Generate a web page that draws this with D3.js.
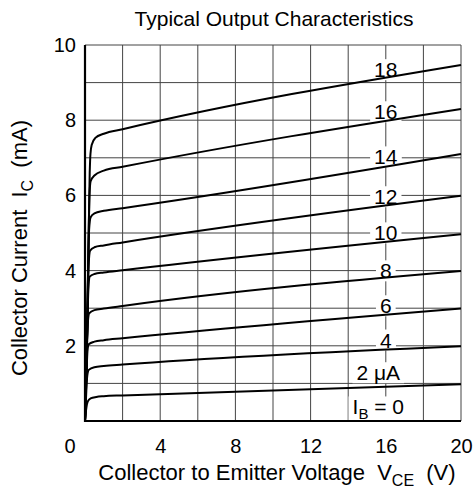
<!DOCTYPE html>
<html>
<head>
<meta charset="utf-8">
<script src="https://cdn.jsdelivr.net/npm/d3@7"></script>
<style>
  body { margin: 0; background: #fff; }
  svg { display: block; font-family: "Liberation Sans", Arial, sans-serif; }
</style>
</head>
<body>
<svg id="chart" width="473" height="490"></svg>
<script>
// Base current I_B (uA) for each curve, and its points [V_CE (V), I_C (mA)]
const baseCurrents = [0, 2, 4, 6, 8, 10, 12, 14, 16, 18];
const curve0 = [[0, 0], [20, 0]];
const curve2 = [[0, 0], [0.06, 0.3], [0.15, 0.52], [0.3, 0.6], [0.6, 0.64], [1, 0.66], [2, 0.68], [20, 0.98]];
const curve4 = [[0, 0], [0.07, 0.8], [0.12, 1.2], [0.2, 1.36], [0.5, 1.43], [1, 1.46], [2, 1.5], [20, 1.99]];
const curve6 = [[0, 0], [0.08, 1.2], [0.13, 1.85], [0.2, 2.04], [0.5, 2.11], [1, 2.15], [2, 2.2], [20, 2.99]];
const curve8 = [[0, 0], [0.1, 1.8], [0.15, 2.6], [0.22, 2.86], [0.5, 2.95], [1, 2.99], [2, 3.06], [20, 3.99]];
const curve10 = [[0, 0], [0.1, 2], [0.18, 3.5], [0.25, 3.84], [0.5, 3.91], [1, 3.95], [2, 4.01], [20, 4.97]];
const curve12 = [[0, 0], [0.1, 2], [0.2, 4.2], [0.27, 4.53], [0.5, 4.62], [1, 4.67], [2, 4.75], [20, 5.99]];
const curve14 = [[0, 0], [0.1, 2], [0.22, 5.1], [0.3, 5.42], [0.5, 5.52], [1, 5.59], [2, 5.66], [20, 7.10]];
const curve16 = [[0, 0], [0.1, 2], [0.24, 6.0], [0.3, 6.38], [0.5, 6.53], [1, 6.66], [2, 6.76], [20, 8.30]];
const curve18 = [[0, 0], [0.1, 2], [0.25, 6.6], [0.29, 7.1], [0.36, 7.35], [0.55, 7.53], [1, 7.64], [2, 7.76], [20, 9.47]];
const curves = [curve0, curve2, curve4, curve6, curve8, curve10, curve12, curve14, curve16, curve18];

// curve labels: text, and where they sit (V_CE, I_C)
const labelText = ["I_B = 0", "2 \u03bcA", "4", "6", "8", "10", "12", "14", "16", "18"];
const labelV = [15.6, 15.6, 16, 16, 16, 16, 16, 16, 16, 16];
const labelI = [0.37, 1.28, 2.15, 3.06, 3.99, 5.0, 5.96, 7.02, 8.22, 9.34];

const xTicks = [4, 8, 12, 16, 20];
const yTicks = [2, 4, 6, 8, 10];

const NB = "\u00a0";
const svg = d3.select("#chart");

const x = d3.scaleLinear().domain([0, 20]).range([85, 461]);
const y = d3.scaleLinear().domain([0, 10]).range([421, 45]);

// Title
svg.append("text")
    .attr("x", 274)
    .attr("y", 26)
    .attr("text-anchor", "middle")
    .attr("font-size", 21)
    .text("Typical Output Characteristics");

// Gridlines
const grid = svg.append("g").attr("class", "grid");
grid.selectAll(".vline")
    .data(x.ticks(10))
    .enter()
    .append("line")
    .attr("x1", d => x(d)).attr("x2", d => x(d))
    .attr("y1", y(0)).attr("y2", y(10))
    .attr("stroke", "#444")
    .attr("stroke-width", 1);
grid.selectAll(".hline")
    .data(y.ticks(10))
    .enter()
    .append("line")
    .attr("x1", x(0)).attr("x2", x(20))
    .attr("y1", d => y(d)).attr("y2", d => y(d))
    .attr("stroke", "#444")
    .attr("stroke-width", 1);

// Left and bottom axis lines are heavier
svg.append("line")
    .attr("x1", x(0)).attr("x2", x(0)).attr("y1", y(0) + 1).attr("y2", y(10))
    .attr("stroke", "#000").attr("stroke-width", 2.2);
svg.append("line")
    .attr("x1", x(0) - 1).attr("x2", x(20)).attr("y1", y(0)).attr("y2", y(0))
    .attr("stroke", "#000").attr("stroke-width", 2.2);

// Curve labels with white backing that breaks the grid
const labels = svg.append("g").attr("class", "curve-labels");
labelText.forEach((t, i) => {
    const g = labels.append("g");
    const txt = g.append("text")
        .attr("x", x(labelV[i]))
        .attr("y", y(labelI[i]))
        .attr("dy", "0.35em")
        .attr("text-anchor", "middle")
        .attr("font-size", 21);
    if (t.startsWith("I_B")) {
        txt.append("tspan").text("I");
        txt.append("tspan").attr("font-size", 15).attr("dy", 5).text("B");
        txt.append("tspan").attr("dy", -5).text(NB + "=" + NB + "0");
    } else {
        txt.text(t.replace(" ", NB));
    }
    const bb = txt.node().getBBox();
    g.insert("rect", "text")
        .attr("x", bb.x - 4)
        .attr("y", bb.y + 1)
        .attr("width", bb.width + 8)
        .attr("height", bb.height - 2)
        .attr("fill", "#fff");
});

// Curves
const line = d3.line()
    .x(d => x(d[0]))
    .y(d => y(d[1]))
    .curve(d3.curveMonotoneX);

svg.append("g").selectAll("path")
    .data(curves)
    .enter()
    .append("path")
    .attr("d", line)
    .attr("fill", "none")
    .attr("stroke", "#000")
    .attr("stroke-width", 2);

// Tick labels
const xAxis = svg.append("g")
    .attr("transform", `translate(0, ${y(0)})`)
    .call(d3.axisBottom(x).tickValues(xTicks).tickSize(0).tickPadding(18));
xAxis.select(".domain").remove();
xAxis.selectAll("text").attr("font-size", 20).attr("fill", "#000").attr("font-family", null);

const yAxis = svg.append("g")
    .attr("transform", `translate(${x(0)}, 0)`)
    .call(d3.axisLeft(y).tickValues(yTicks).tickSize(0).tickPadding(9));
yAxis.select(".domain").remove();
yAxis.selectAll("text").attr("font-size", 20).attr("fill", "#000").attr("font-family", null);

// lone origin label
svg.append("text")
    .attr("x", 70)
    .attr("y", 453)
    .attr("text-anchor", "middle")
    .attr("font-size", 20)
    .text("0");

// X axis title
const xt = svg.append("text")
    .attr("x", 277)
    .attr("y", 480)
    .attr("text-anchor", "middle")
    .attr("font-size", 22);
xt.append("tspan").text("Collector to Emitter Voltage" + NB + NB + "V");
xt.append("tspan").attr("font-size", 16).attr("dy", 6).text("CE");
xt.append("tspan").attr("dy", -6).text(NB + NB + "(V)");

// Y axis title
const yt = svg.append("text")
    .attr("transform", "translate(27, 248) rotate(-90)")
    .attr("text-anchor", "middle")
    .attr("font-size", 22);
yt.append("tspan").text("Collector Current" + NB + NB + "I");
yt.append("tspan").attr("font-size", 16).attr("dy", 6).text("C");
yt.append("tspan").attr("dy", -6).text(NB + NB + "(mA)");
</script>
</body>
</html>
